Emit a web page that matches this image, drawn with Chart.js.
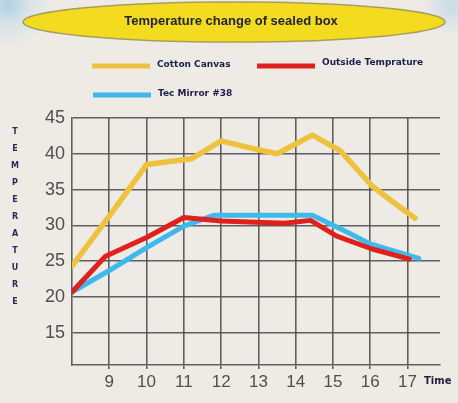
<!DOCTYPE html>
<html>
<head>
<meta charset="utf-8">
<script src="https://cdn.jsdelivr.net/npm/chart.js@4/dist/chart.umd.min.js"></script>
<style>
  html, body { margin: 0; padding: 0; }
  body {
    width: 458px; height: 403px; overflow: hidden;
    background:
      radial-gradient(circle at 8px 4px, rgba(170,205,225,0.9) 0, rgba(200,220,232,0.5) 22px, rgba(238,235,231,0) 45px),
      radial-gradient(circle at 452px 6px, rgba(190,215,230,0.8) 0, rgba(238,235,231,0) 30px),
      #eeebe7;
  }
  #wrap { position: relative; width: 458px; height: 403px; }
</style>
</head>
<body>
<div id="wrap"><canvas id="chart" width="458" height="403"></canvas></div>
<script>
const chartTitle = "Temperature change of sealed box";
const yTitle = "TEMPERATURE";
const xTitle = "Time";
const hourTicks = [9, 10, 11, 12, 13, 14, 15, 16, 17];
const tempTicks = [15, 20, 25, 30, 35, 40, 45];

// Cotton Canvas
const cottonTimes = [8, 9, 10, 11.2, 12, 12.8, 13.5, 14.45, 15.2, 16.05, 16.6, 17.2];
const cottonTemps = [24.3, 31.3, 38.5, 39.3, 41.8, 40.8, 40.0, 42.6, 40.4, 35.5, 33.3, 31.0];

// Outside Temprature
const outsideTimes = [8, 8.9, 10, 11, 12, 13.7, 14.4, 15.1, 16.05, 17.05];
const outsideTemps = [20.7, 25.7, 28.3, 31.1, 30.6, 30.3, 30.7, 28.5, 26.7, 25.3];

// Tec Mirror #38
const mirrorTimes = [8, 9, 10, 11, 11.8, 14.45, 15.4, 16, 17.3];
const mirrorTemps = [20.7, 23.7, 26.9, 29.9, 31.4, 31.4, 29.0, 27.4, 25.4];

const toPoints = (xs, ys) => xs.map((x, i) => ({ x: x, y: ys[i] }));

const gridColor = "rgba(80,80,80,0.9)";

const decorations = {
  id: "decorations",
  afterDraw(chart) {
    const ctx = chart.ctx;
    ctx.save();

    // title in the yellow oval
    ctx.beginPath();
    ctx.ellipse(234, 22, 211, 20, 0, 0, Math.PI * 2);
    ctx.fillStyle = "#f3dc1f";
    ctx.fill();
    ctx.lineWidth = 1.5;
    ctx.strokeStyle = "#a89e5c";
    ctx.stroke();
    ctx.fillStyle = "#262618";
    ctx.font = "bold 13px 'Liberation Sans', Arial, sans-serif";
    ctx.textAlign = "center";
    ctx.textBaseline = "middle";
    ctx.fillText(chartTitle, 231, 21);

    // legend
    const spots = [
      { x: 92, y: 66, ty: 65 },
      { x: 257, y: 66, ty: 63 },
      { x: 93, y: 95, ty: 94 }
    ];
    ctx.font = "bold 9px 'DejaVu Sans', sans-serif";
    ctx.textAlign = "left";
    chart.data.datasets.forEach((ds, i) => {
      const s = spots[i];
      ctx.beginPath();
      ctx.moveTo(s.x, s.y);
      ctx.lineTo(s.x + 58, s.y);
      ctx.lineWidth = 5;
      ctx.strokeStyle = ds.borderColor;
      ctx.lineCap = "butt";
      ctx.stroke();
      ctx.fillStyle = "#1a1e48";
      ctx.fillText(ds.label, s.x + 65, s.ty);
    });

    // vertical y title
    ctx.font = "bold 8px 'DejaVu Sans', sans-serif";
    ctx.textAlign = "center";
    ctx.fillStyle = "#2a2a52";
    yTitle.split("").forEach((ch, i) => {
      ctx.fillText(ch, 15, 132 + i * 17);
    });

    // x title
    ctx.font = "bold 10px 'DejaVu Sans', sans-serif";
    ctx.textAlign = "left";
    ctx.fillStyle = "#202040";
    ctx.fillText(xTitle, 424, 381);

    ctx.restore();
  }
};

new Chart(document.getElementById("chart"), {
  type: "line",
  data: {
    datasets: [
      {
        label: "Cotton Canvas",
        data: toPoints(cottonTimes, cottonTemps),
        borderColor: "#ecc23e",
        borderWidth: 5.5,
        order: 3
      },
      {
        label: "Outside Temprature",
        data: toPoints(outsideTimes, outsideTemps),
        borderColor: "#e0201c",
        borderWidth: 5,
        order: 1
      },
      {
        label: "Tec Mirror #38",
        data: toPoints(mirrorTimes, mirrorTemps),
        borderColor: "#3fb9ea",
        borderWidth: 5,
        order: 2
      }
    ]
  },
  options: {
    responsive: false,
    animation: false,
    devicePixelRatio: 1,
    layout: { padding: { top: 118, right: 18, left: 0, bottom: 0 } },
    elements: {
      point: { radius: 0 },
      line: { tension: 0, borderJoinStyle: "round", borderCapStyle: "round" }
    },
    plugins: {
      legend: { display: false },
      title: { display: false },
      tooltip: { enabled: false }
    },
    scales: {
      x: {
        type: "linear",
        min: 8,
        max: 17.87,
        afterBuildTicks: (scale) => { scale.ticks = hourTicks.map(v => ({ value: v })); },
        afterFit: (scale) => { scale.height = 38; },
        grid: { color: gridColor, lineWidth: 1.6, tickLength: 4 },
        border: { color: gridColor, width: 1.6 },
        ticks: {
          color: "#4f4f4f",
          padding: 3,
          maxRotation: 0,
          font: { family: "'Liberation Sans', Arial, sans-serif", size: 17 }
        }
      },
      y: {
        min: 10.5,
        max: 45,
        afterBuildTicks: (scale) => { scale.ticks = tempTicks.map(v => ({ value: v })); },
        afterFit: (scale) => { scale.width = 72; },
        grid: { color: gridColor, lineWidth: 1.6, drawTicks: false },
        border: { color: gridColor, width: 1.6 },
        ticks: {
          color: "#4f4f4f",
          padding: 7,
          font: { family: "'Liberation Sans', Arial, sans-serif", size: 18 }
        }
      }
    }
  },
  plugins: [decorations]
});
</script>
</body>
</html>
